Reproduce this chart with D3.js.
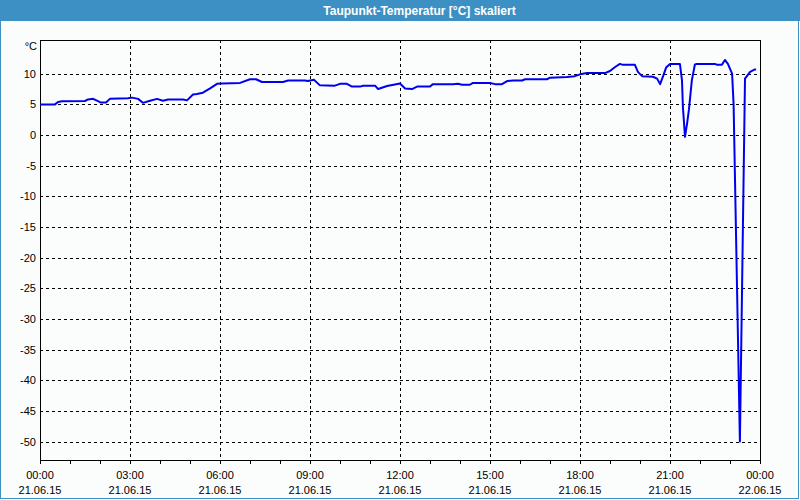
<!DOCTYPE html>
<html>
<head>
<meta charset="utf-8">
<script src="https://cdn.jsdelivr.net/npm/d3@7/dist/d3.min.js"></script>
<style>
  html, body { margin: 0; padding: 0; background: #fafdfb; }
  svg { display: block; }
  text { font-family: "Liberation Sans", Arial, sans-serif; }
</style>
</head>
<body>
<svg id="chart" width="800" height="500"></svg>
<script>
// ---- data ----
const title = "Taupunkt-Temperatur [°C] skaliert";
const unitLabel = "°C";
// hours since 21.06.15 00:00
const hours = [
  0.0, 0.5, 0.6, 0.73, 1.5, 1.6, 1.77, 1.9, 2.03, 2.2, 2.33, 2.93, 3.07, 3.27, 3.43, 3.67, 3.9,
  4.1, 4.27, 4.77, 4.9, 5.1, 5.23, 5.43, 5.67, 5.9, 6.07, 6.67, 7.0, 7.2, 7.4, 8.1, 8.27, 8.83,
  8.93, 9.13, 9.33, 9.83, 10.0, 10.23, 10.4, 10.67, 10.77, 11.17, 11.27, 11.57, 12.0, 12.17, 12.4,
  12.57, 13.0, 13.1, 13.77, 13.93, 14.07, 14.33, 14.43, 15.0, 15.17, 15.4, 15.57, 15.77, 16.07,
  16.17, 16.9, 17.0, 17.57, 17.83, 18.0, 18.23, 18.83, 19.0, 19.17, 19.33, 19.43, 19.83, 19.93,
  20.07, 20.43, 20.57, 20.67, 20.77, 20.87, 21.0, 21.33, 21.4, 21.43, 21.5, 21.57, 21.63, 21.73,
  21.83, 21.9, 22.5, 22.57, 22.73, 22.83, 22.93, 23.07, 23.12, 23.33, 23.5, 23.67, 23.83, 23.87
];
const dewpoint = [
  5.0, 5.0, 5.4, 5.5, 5.55, 5.8, 5.9, 5.6, 5.3, 5.3, 5.9, 6.0, 6.1, 5.9, 5.25, 5.6, 5.9,
  5.6, 5.8, 5.8, 5.65, 6.6, 6.7, 6.9, 7.6, 8.35, 8.4, 8.5, 9.1, 9.1, 8.65, 8.65, 8.9, 8.9,
  8.8, 9.0, 8.1, 8.05, 8.35, 8.35, 7.9, 7.9, 8.05, 8.05, 7.5, 8.0, 8.4, 7.6, 7.5,
  7.9, 7.9, 8.3, 8.3, 8.35, 8.2, 8.2, 8.5, 8.5, 8.3, 8.3, 8.8, 8.9, 8.9,
  9.1, 9.1, 9.35, 9.45, 9.6, 9.9, 10.1, 10.1, 10.45, 11.1, 11.6, 11.45, 11.45, 10.3,
  9.6, 9.5, 9.2, 8.3, 9.6, 11.0, 11.6, 11.6, 8.9, 4.6, -0.3, 1.9, 4.1, 9.0,
  11.5, 11.6, 11.6, 11.45, 11.45, 12.25, 11.6, 10.0, 5.0, -50.0, 9.2, 10.3, 10.7, 10.7
];
const yTicks = [10, 5, 0, -5, -10, -15, -20, -25, -30, -35, -40, -45, -50];
const xLabelHours = [0, 3, 6, 9, 12, 15, 18, 21, 24];

// ---- layout ----
const svg = d3.select("#chart");
const W = 800, H = 500;
const m = { left: 40, right: 760, top: 40, bottom: 460 };
const start = new Date(2015, 5, 21, 0, 0);
const toDate = h => new Date(start.getTime() + h * 3600000);

const x = d3.scaleTime().domain([start, toDate(24)]).range([m.left, m.right]);
const y = d3.scaleLinear().domain([-53, 15.5]).range([m.bottom, m.top]);

// window frame & title bar
svg.append("rect").attr("x", 0).attr("y", 0).attr("width", W).attr("height", H).attr("fill", "#fafdfb");
svg.append("rect").attr("x", 0.5).attr("y", 0.5).attr("width", W - 2).attr("height", H - 2)
  .attr("fill", "none").attr("stroke", "#3c90c4").attr("stroke-width", 1);
svg.append("rect").attr("x", 0).attr("y", 0).attr("width", W).attr("height", 21).attr("fill", "#3c90c4");
svg.append("text").attr("x", 419.5).attr("y", 15).attr("text-anchor", "middle")
  .attr("fill", "#ffffff").attr("font-weight", "bold").attr("font-size", "12px").text(title);

const px = v => Math.round(v) + 0.5;

// grid
const grid = svg.append("g").attr("stroke", "#000").attr("stroke-width", 1)
  .attr("stroke-dasharray", "3,3").attr("shape-rendering", "crispEdges");
grid.selectAll("line.h").data(yTicks).join("line")
  .attr("x1", m.left).attr("x2", m.right)
  .attr("y1", d => px(y(d))).attr("y2", d => px(y(d)));
grid.selectAll("line.v").data(xLabelHours.slice(1, -1)).join("line")
  .attr("x1", d => px(x(toDate(d)))).attr("x2", d => px(x(toDate(d))))
  .attr("y1", m.top).attr("y2", m.bottom);

// x axis (hourly ticks below plot)
const xAxis = d3.axisBottom(x)
  .tickValues(d3.range(0, 25).map(toDate))
  .tickSize(4).tickFormat("");
const gx = svg.append("g").attr("transform", `translate(0,${m.bottom})`).call(xAxis);
gx.select(".domain").remove();
gx.selectAll("line").attr("stroke", "#000").attr("shape-rendering", "crispEdges");

const fmtT = d3.timeFormat("%H:%M"), fmtD = d3.timeFormat("%d.%m.%y");
const xl = svg.append("g").attr("font-size", "11px").attr("fill", "#000").attr("text-anchor", "middle");
xLabelHours.forEach(h => {
  const d = toDate(h);
  xl.append("text").attr("x", x(d)).attr("y", 479).text(fmtT(d));
  xl.append("text").attr("x", x(d)).attr("y", 494).text(fmtD(d));
});

// y labels
const yl = svg.append("g").attr("font-size", "11px").attr("fill", "#000").attr("text-anchor", "end");
yl.selectAll("text").data(yTicks).join("text")
  .attr("x", 36).attr("y", d => y(d) + 4).text(d => d);
svg.append("text").attr("x", 37).attr("y", 50).attr("text-anchor", "end")
  .attr("font-size", "11px").attr("fill", "#000").text(unitLabel);

// plot border
svg.append("rect").attr("x", m.left + 0.5).attr("y", m.top + 0.5)
  .attr("width", m.right - m.left).attr("height", m.bottom - m.top)
  .attr("fill", "none").attr("stroke", "#000").attr("stroke-width", 1).attr("shape-rendering", "crispEdges");

// series line
const pts = hours.map((h, i) => [toDate(h), dewpoint[i]]);
svg.append("path").datum(pts)
  .attr("fill", "none").attr("stroke", "#0000f0").attr("stroke-width", 2)
  .attr("stroke-linejoin", "round")
  .attr("d", d3.line().x(d => x(d[0])).y(d => y(d[1])));
</script>
</body>
</html>
